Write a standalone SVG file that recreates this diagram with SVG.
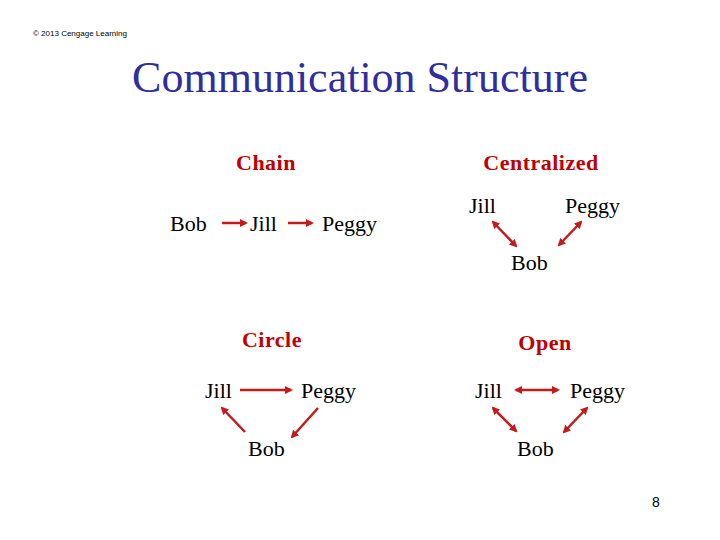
<svg xmlns="http://www.w3.org/2000/svg" width="720" height="540" viewBox="0 0 720 540">
<style>
.t{font-family:"Liberation Serif",serif;font-size:22px;fill:#000}
.h{font-family:"Liberation Serif",serif;font-size:22px;font-weight:bold;fill:#c00000;text-anchor:middle;letter-spacing:0.5px}
.c{stroke:#c41a1a;stroke-width:2.5;fill:none}
</style>
<defs>
<marker id="a" markerWidth="8" markerHeight="8" refX="6" refY="4" orient="auto-start-reverse" markerUnits="userSpaceOnUse"><path d="M0,0L8,4L0,8z" fill="#c41a1a"/></marker>
</defs>
<rect width="720" height="540" fill="#fff"/>
<text x="33" y="36" font-family="Liberation Sans,sans-serif" font-size="8">© 2013 Cengage Learning</text>
<text x="360" y="92" text-anchor="middle" font-family="Liberation Serif,serif" font-size="44" fill="#2e2e9e">Communication Structure</text>
<text x="266" y="170" class="h">Chain</text>
<text x="541" y="170" class="h">Centralized</text>
<text x="272" y="347" class="h">Circle</text>
<text x="545" y="350" class="h">Open</text>
<g id="chain">
<text x="170" y="231" class="t">Bob</text><text x="250" y="231" class="t">Jill</text><text x="322" y="231" class="t">Peggy</text>
</g>
<g id="centralized">
<text x="469" y="213" class="t">Jill</text><text x="565" y="213" class="t">Peggy</text><text x="511" y="270" class="t">Bob</text>
</g>
<g id="circle">
<text x="205" y="398" class="t">Jill</text><text x="301" y="398" class="t">Peggy</text><text x="248" y="456" class="t">Bob</text>
</g>
<g id="open">
<text x="475" y="398" class="t">Jill</text><text x="570" y="398" class="t">Peggy</text><text x="517" y="456" class="t">Bob</text>
</g>
<g id="connectors" class="c">
<line x1="222" y1="223" x2="246" y2="223" marker-end="url(#a)"/>
<line x1="288" y1="223" x2="312" y2="223" marker-end="url(#a)"/>
<line x1="493" y1="222" x2="516" y2="246" marker-start="url(#a)" marker-end="url(#a)"/>
<line x1="581" y1="222" x2="559" y2="245" marker-start="url(#a)" marker-end="url(#a)"/>
<line x1="240" y1="390" x2="291" y2="390" marker-end="url(#a)"/>
<line x1="318" y1="408" x2="292" y2="437" marker-end="url(#a)"/>
<line x1="245" y1="432" x2="222" y2="408" marker-end="url(#a)"/>
<line x1="516" y1="390" x2="558" y2="390" marker-start="url(#a)" marker-end="url(#a)"/>
<line x1="493" y1="408" x2="516" y2="431" marker-start="url(#a)" marker-end="url(#a)"/>
<line x1="587" y1="408" x2="564" y2="432" marker-start="url(#a)" marker-end="url(#a)"/>
</g>
<text x="652" y="507" font-family="Liberation Sans,sans-serif" font-size="14">8</text>
</svg>
